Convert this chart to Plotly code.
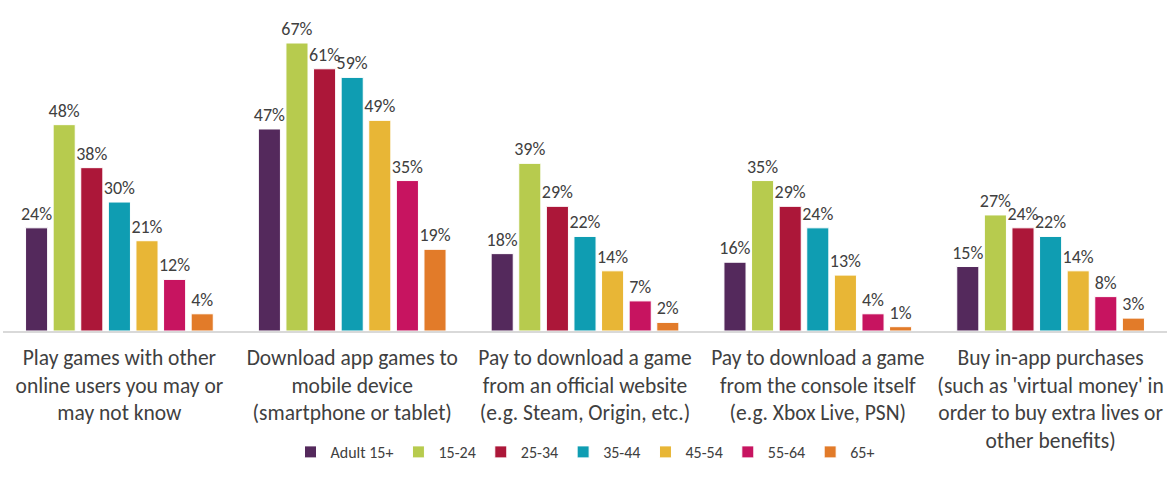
import plotly.graph_objects as go

categories = [
    "Play games with other<br>online users you may or<br>may not know",
    "Download app games to<br>mobile device<br>(smartphone or tablet)",
    "Pay to download a game<br>from an official website<br>(e.g. Steam, Origin, etc.)",
    "Pay to download a game<br>from the console itself<br>(e.g. Xbox Live, PSN)",
    "Buy in-app purchases<br>(such as 'virtual money' in<br>order to buy extra lives or<br>other benefits)",
]
series_names = ["Adult 15+", "15-24", "25-34", "35-44", "45-54", "55-64", "65+"]
adult = [24, 47, 18, 16, 15]
age_15_24 = [48, 67, 39, 35, 27]
age_25_34 = [38, 61, 29, 29, 24]
age_35_44 = [30, 59, 22, 24, 22]
age_45_54 = [21, 49, 14, 13, 14]
age_55_64 = [12, 35, 7, 4, 8]
age_65_plus = [4, 19, 2, 1, 3]
values = [adult, age_15_24, age_25_34, age_35_44, age_45_54, age_55_64, age_65_plus]
colors = ["#54295C", "#B7CB4E", "#AC1739", "#0F9DB2", "#E8B636", "#C71460", "#E27B29"]

FONT = "Carlito, 'Liberation Sans Narrow', 'Liberation Sans', Arial, sans-serif"

fig = go.Figure()
for name, vals, col in zip(series_names, values, colors):
    fig.add_trace(go.Bar(
        name=name, x=categories, y=vals,
        marker=dict(color=col, line=dict(color="white", width=1)),
        text=[f"{v}%" for v in vals], textposition="outside",
        constraintext="none",
        textfont=dict(size=18, color="#404040", family=FONT),
        cliponaxis=False,
    ))

fig.update_layout(
    width=1169, height=489,
    margin=dict(l=3, r=2, t=20, b=158, autoexpand=False),
    paper_bgcolor="white", plot_bgcolor="white",
    barmode="group", bargap=0.17, bargroupgap=0.2,
    font=dict(family=FONT, color="#404040"),
    showlegend=True,
    legend=dict(orientation="h", x=0.5, xanchor="center", y=-0.389, yanchor="middle",
                font=dict(size=16, color="#404040", family=FONT), traceorder="normal",
                itemwidth=30),
    xaxis=dict(showline=True, linecolor="#D9D9D9", linewidth=1.5, ticks="",
               automargin=False, ticklabelstandoff=6,
               tickfont=dict(size=21.5, color="#404040", family=FONT), showgrid=False),
    yaxis=dict(range=[0, 72.35], visible=False, showgrid=False, automargin=False),
)

fig.write_html("out.html", config={"displayModeBar": False},
               post_script="document.body.style.margin='0';document.body.style.overflow='hidden';")
